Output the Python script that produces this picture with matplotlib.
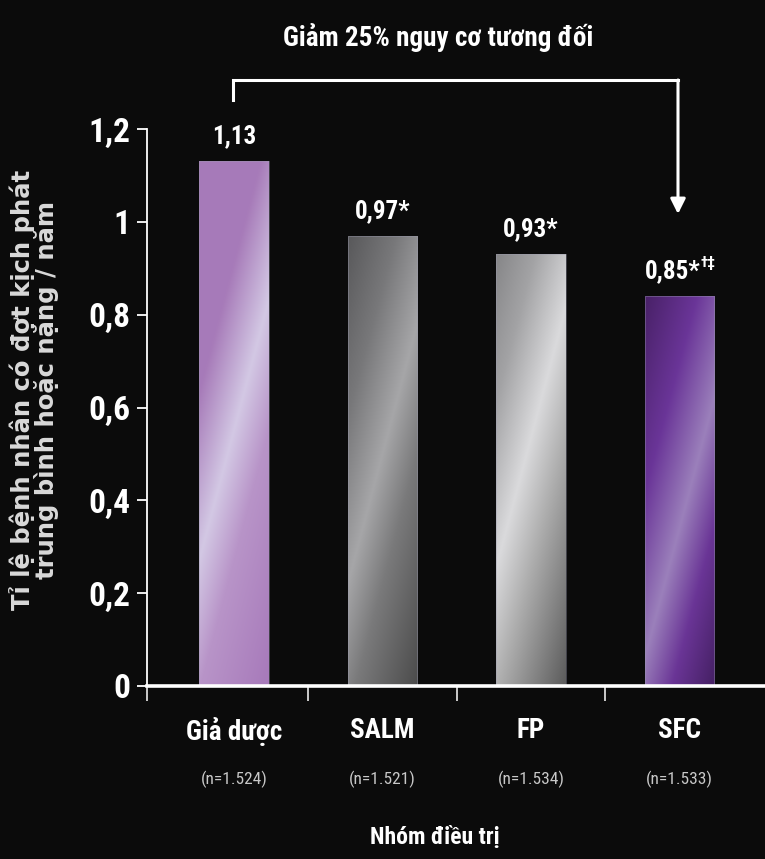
import numpy as np
import matplotlib
matplotlib.use("Agg")
import matplotlib.pyplot as plt
import matplotlib.transforms as mtrans
from matplotlib import font_manager

# ---------------- data ----------------
categories = ["Giả dược", "SALM", "FP", "SFC"]
n_labels = ["(n=1.524)", "(n=1.521)", "(n=1.534)", "(n=1.533)"]
values = [1.13, 0.97, 0.93, 0.84]
value_labels = ["1,13", "0,97*", "0,93*", "0,85*"]
value_sups = ["", "", "", "†‡"]
yticks = [0, 0.2, 0.4, 0.6, 0.8, 1.0, 1.2]
ytick_labels = ["0", "0,2", "0,4", "0,6", "0,8", "1", "1,2"]
title = "Giảm 25% nguy cơ tương đối"
xlabel = "Nhóm điều trị"
ylabel = "Tỉ lệ bệnh nhân có đợt kịch phát\ntrung bình hoặc nặng / năm"

# ---------------- fonts ----------------
names = {f.name for f in font_manager.fontManager.ttflist}
narrow = None
for cand in ["Roboto Condensed", "Liberation Sans Narrow", "Open Sans Condensed",
             "DejaVu Sans Condensed", "Roboto"]:
    if cand in names:
        narrow = cand
        break
NARROW = [narrow, "DejaVu Sans"] if narrow else ["DejaVu Sans"]
WIDE = ["DejaVu Sans"]

BG = "#0b0b0b"
FG = "white"

# gradient stops per bar: (offset from streak, colour)
bar_stops = [
    [(-120, "#a67aba"), (-45, "#a77bb9"), (0, "#d3c8e4"), (35, "#b894c8"), (100, "#a87bbb")],
    [(-120, "#474749"), (-45, "#78787a"), (0, "#a6a6a8"), (35, "#7a7a7b"), (100, "#4a4a4a")],
    [(-120, "#6c6c6e"), (-45, "#a3a3a5"), (0, "#dadadc"), (35, "#aeaeae"), (100, "#5e5e5e")],
    [(-120, "#3a1852"), (-45, "#6a3598"), (0, "#9b80bb"), (35, "#6a3596"), (90, "#3a1a55")],
]
streak_pos = [-34, -28, -32, -8]

fig = plt.figure(figsize=(7.65, 8.59), dpi=100, facecolor=BG)
ax = fig.add_axes([147/765, 1 - 686/859, 1 - 147/765, (686 - 129)/859])
ax.set_facecolor(BG)

x = np.arange(len(categories))
xleft = -0.586
xright = 3.576
bw = 0.471

bars = ax.bar(x, values, width=bw, color="none", edgecolor="#9a9aae",
              linewidth=0.4, alpha=0.7, zorder=3)

# pixel scale approximations for gradient geometry
px_per_unit = (686 - 129) / 1.2
bar_px_w = 70
slope = 0.27
for i, (b, v) in enumerate(zip(bars, values)):
    nx, ny = 90, 500
    xs = np.linspace(0, bar_px_w, nx)
    hs = np.linspace(0, v * px_per_unit, ny)
    X, H = np.meshgrid(xs, hs)
    S = X - slope * H
    stops = bar_stops[i]
    pos = [streak_pos[i] + d for d, _ in stops]
    cols = [matplotlib.colors.to_rgb(c) for _, c in stops]
    img = np.zeros((ny, nx, 3))
    for c in range(3):
        img[..., c] = np.interp(S, pos, [col[c] for col in cols])
    im = ax.imshow(img, extent=(x[i] - bw/2, x[i] + bw/2, 0, v), origin="lower",
                   aspect="auto", zorder=2, interpolation="bilinear")
    im.set_clip_path(b)

ax.set_xlim(xleft, xright)
ax.set_ylim(0, 1.2)

# spines
for s in ["top", "right"]:
    ax.spines[s].set_visible(False)
ax.spines["left"].set_color(FG)
ax.spines["left"].set_linewidth(1.3)
ax.spines["bottom"].set_color(FG)
ax.spines["bottom"].set_linewidth(2.6)
ax.spines["bottom"].set_zorder(5)

ax.set_yticks(yticks)
ax.set_yticklabels(ytick_labels, family=NARROW, fontsize=24, fontweight="bold", color=FG)
ax.tick_params(axis="y", colors=FG, length=7, width=1.3, pad=5)

ax.set_xticks([xleft, 0.5, 1.5, 2.5])
ax.set_xticklabels([])
ax.tick_params(axis="x", colors=FG, length=11, width=1.1, direction="out")

# category labels
trans = mtrans.blended_transform_factory(ax.transData, fig.transFigure)
for i, (c, n) in enumerate(zip(categories, n_labels)):
    ax.text(x[i], 1 - 731/859, c, transform=trans, ha="center", va="center",
            family=NARROW, fontsize=19.5, fontweight="bold", color=FG)
    ax.text(x[i], 1 - 779/859, n, transform=trans, ha="center", va="center",
            family=NARROW, fontsize=12.5, color="#c8c8c8")

fig.text(435/765, 1 - 838/859, xlabel, ha="center", va="center",
         family=NARROW, fontsize=17, fontweight="bold", color=FG)

# value labels
for i, (v, lab, sup) in enumerate(zip(values, value_labels, value_sups)):
    if sup:
        ax.annotate(lab, xy=(x[i], v), xytext=(-5, 13), textcoords="offset points",
                    ha="center", va="baseline", family=NARROW, fontsize=18,
                    fontweight="bold", color=FG)
        ax.annotate(sup, xy=(x[i], v), xytext=(15.5, 21), textcoords="offset points",
                    ha="left", va="baseline", family=NARROW, fontsize=11,
                    fontweight="bold", color=FG)
    else:
        ax.annotate(lab, xy=(x[i], v), xytext=(0, 13), textcoords="offset points",
                    ha="center", va="baseline", family=NARROW, fontsize=18,
                    fontweight="bold", color=FG)

# title
fig.text(438/765, 1 - 37/859, title, ha="center", va="center",
         family=NARROW, fontsize=19.5, fontweight="semibold", color=FG)

# bracket with arrow (Giả dược -> SFC)
y_top = (686 - 80) / px_per_unit
y_left_end = (686 - 100) / px_per_unit
y_tip = (686 - 214) / px_per_unit
ax.plot([x[0] - 0.01, x[0] - 0.01, x[3] - 0.01], [y_left_end, y_top, y_top],
        color=FG, lw=2.2, clip_on=False, solid_joinstyle="miter", zorder=6)
ax.annotate("", xy=(x[3] - 0.01, y_tip), xytext=(x[3] - 0.01, y_top),
            arrowprops=dict(arrowstyle="-|>,head_length=0.9,head_width=0.45",
                            color=FG, lw=2.2, shrinkA=0, shrinkB=0),
            annotation_clip=False, zorder=6)

# y label
fig.text(34/765, 1 - 390/859, ylabel, rotation=90, ha="center", va="center",
         family=WIDE, fontsize=17.5, fontweight="bold", color="#d9d9d9",
         linespacing=0.93, multialignment="center")

fig.savefig("out.png", dpi=100, facecolor=BG)
